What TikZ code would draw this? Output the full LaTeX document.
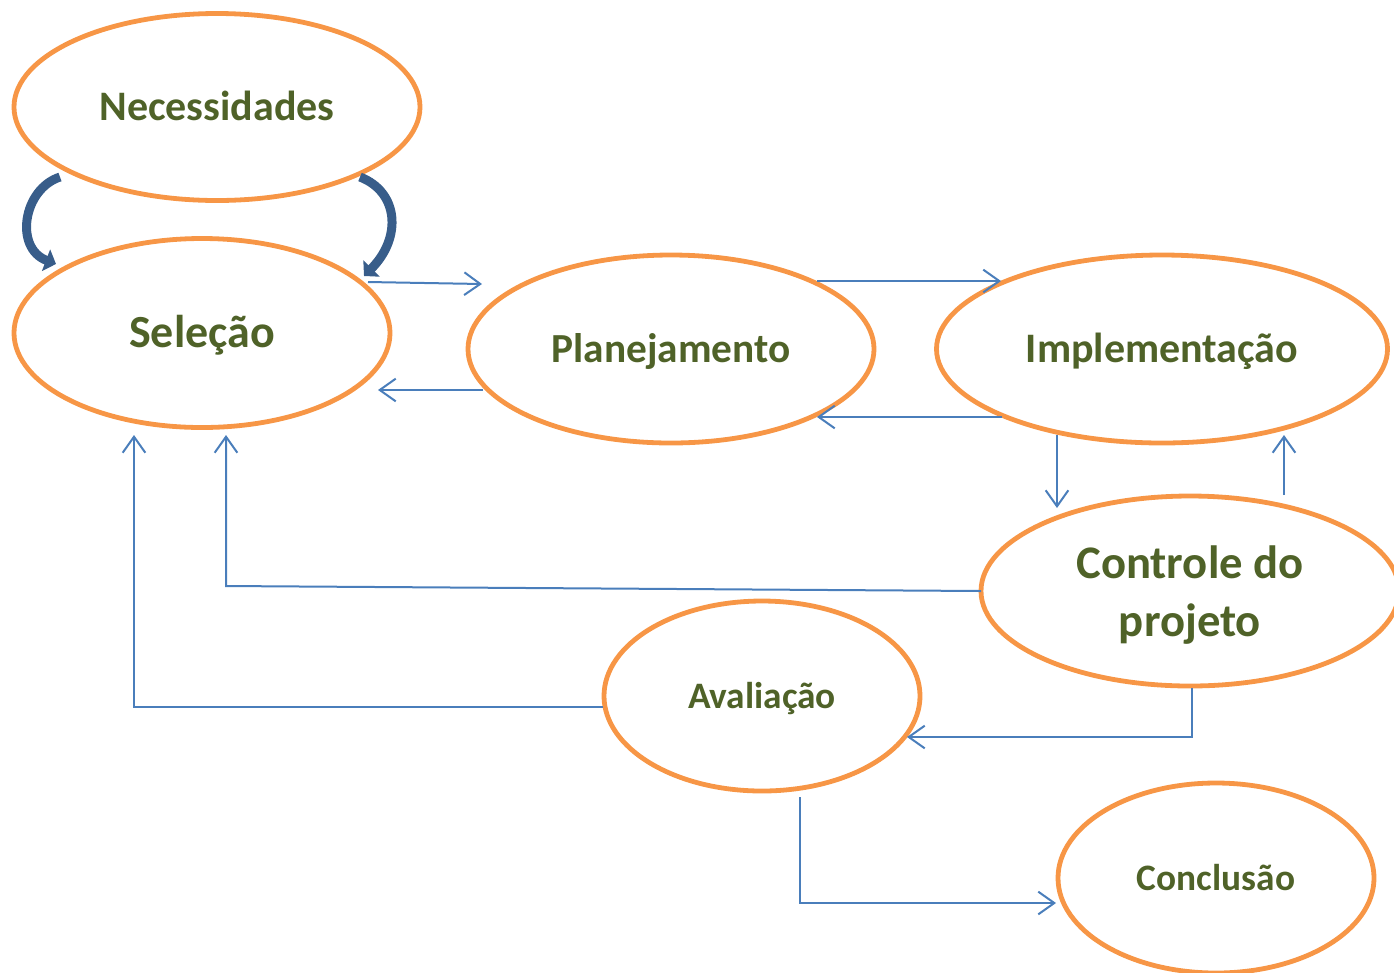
\documentclass[tikz,border=0pt]{standalone}
\usepackage{fontspec}
\setmainfont{Carlito}
\usetikzlibrary{arrows.meta,shapes.geometric}
\definecolor{orng}{HTML}{F79646}
\definecolor{lblue}{HTML}{4A7EBB}
\definecolor{dblue}{HTML}{385D8A}
\definecolor{olive}{HTML}{4F6228}
\tikzset{
  bubble/.style={ellipse, draw=orng, line width=3.6pt, inner sep=0pt, text=olive, font=\bfseries, align=center},
  oneline/.style={text height=#1, text depth=0pt},
  arr/.style={draw=lblue, line width=1.5pt, -{Straight Barb[length=12pt,width=17pt,line width=1.5pt]}},
  bigarr/.style={draw=dblue, line width=6.75pt, -{Triangle[length=8pt,width=17pt]}}
}
\begin{document}
\begin{tikzpicture}[x=0.75pt,y=-0.75pt]
\useasboundingbox (0,0) rectangle (1394,972);
\node[bubble, oneline=20.3pt, minimum width=304.5pt, minimum height=140.25pt, font=\bfseries\fontsize{31.5}{38}\selectfont] (nec) at (217,107) {Necessidades};
\node[bubble, oneline=22.2pt, minimum width=282pt, minimum height=141.75pt, font=\bfseries\fontsize{34.5}{40}\selectfont] (sel) at (202,333) {Seleção};
\node[bubble, oneline=20pt, minimum width=304.5pt, minimum height=141pt, font=\bfseries\fontsize{31}{38}\selectfont] (plan) at (671,349) {Planejamento};
\node[bubble, oneline=20.3pt, minimum width=338.25pt, minimum height=141pt, font=\bfseries\fontsize{31.5}{38}\selectfont] (impl) at (1162,349) {Implementação};
\node[bubble, minimum width=313.5pt, minimum height=142.5pt, font=\bfseries\fontsize{35}{43}\selectfont] (ctrl) at (1190,591) {\raisebox{-3.75pt}[\height][\depth]{\begin{tabular}{@{}c@{}}Controle do\\projeto\end{tabular}}};
\node[bubble, oneline=18pt, minimum width=237pt, minimum height=142.5pt, font=\bfseries\fontsize{28}{34}\selectfont] (aval) at (762,696) {Avaliação};
\node[bubble, oneline=18pt, minimum width=237pt, minimum height=142.5pt, font=\bfseries\fontsize{28}{34}\selectfont] (conc) at (1216,878) {Conclusão};

% curved arrows
\draw[bigarr] ([shift={(-157,70)}]nec.center) .. controls ([shift={(-194,82)}]nec.center) and ([shift={(-188,-85)}]sel.center) .. ([shift={(-146,-69)}]sel.center);
\draw[bigarr] ([shift={(143,70)}]nec.center) .. controls ([shift={(182,85)}]nec.center) and ([shift={(200,-95)}]sel.center) .. ([shift={(162,-57)}]sel.center);

% connectors
\draw[arr] ([shift={(166,-51)}]sel.center) -- ([shift={(-189,-65)}]plan.center);
\draw[arr] ([shift={(-188,41)}]plan.center) -- ([shift={(176,57)}]sel.center);
\draw[arr] ([shift={(146,-68)}]plan.center) -- ([shift={(-161,-68)}]impl.center);
\draw[arr] ([shift={(-160,68)}]impl.center) -- ([shift={(146,68)}]plan.center);
\draw[arr] ([shift={(-105,86)}]impl.center) -- ([shift={(-133,-83)}]ctrl.center);
\draw[arr] ([shift={(94,-96)}]ctrl.center) -- ([shift={(122,86)}]impl.center);
\draw[arr] ([shift={(-209,0)}]ctrl.center) -- ([shift={(24,253)}]sel.center) -- ([shift={(24,102)}]sel.center);
\draw[arr] ([shift={(-159,11)}]aval.center) -| ([shift={(-68,102)}]sel.center);
\draw[arr] ([shift={(2,97)}]ctrl.center) |- ([shift={(145,41)}]aval.center);
\draw[arr] ([shift={(38,101)}]aval.center) |- ([shift={(-160,25)}]conc.center);
\end{tikzpicture}
\end{document}
